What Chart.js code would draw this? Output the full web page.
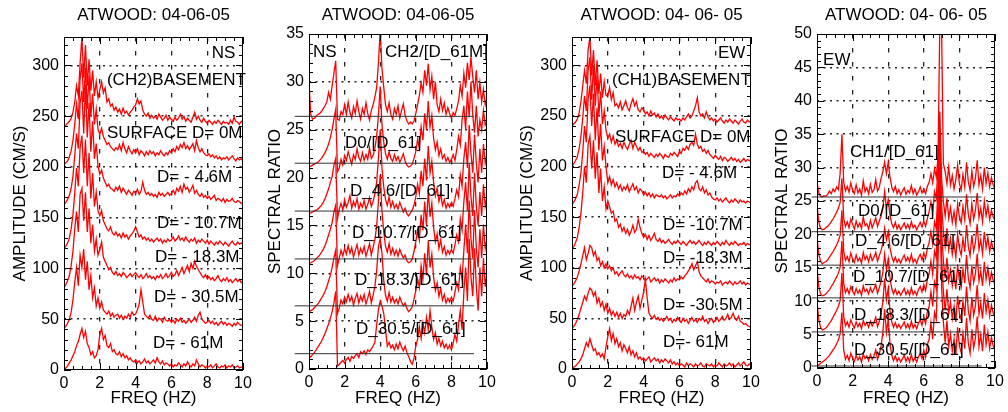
<!DOCTYPE html>
<html>
<head>
<meta charset="utf-8">
<title>ATWOOD 04-06-05</title>
<script src="https://cdn.jsdelivr.net/npm/chart.js@4/dist/chart.umd.min.js"></script>
<style>
  html, body { margin: 0; padding: 0; background: #fff; }
  body { width: 1008px; height: 412px; position: relative; overflow: hidden; }
  canvas { position: absolute; top: 0; }
</style>
</head>
<body>
<canvas id="nsAmp" width="252" height="412" style="left:0px"></canvas>
<canvas id="nsRatio" width="252" height="412" style="left:252px"></canvas>
<canvas id="ewAmp" width="264" height="412" style="left:500px"></canvas>
<canvas id="ewRatio" width="252" height="412" style="left:756px"></canvas>
<script>
// frequency grid, 0.1 Hz spacing
const freq = Array.from({ length: 101 }, (_, i) => i / 10);

// ---- NS amplitude spectra (cm/s above each trace's offset) ----
const nsShift = [240, 202, 163, 119, 81, 41, 0];
const nsBasement = [0,1,3,5,8,14,24,40,30,62, 88,48,80,40,66,35,55,30,44,28, 36,44,33,38,24,27,20,22,16,19, 14,17,12,18,13,15,11,14,16,19, 21,27,22,25,16,12,10,13,8,11, 8,10,7,12,9,6,8,11,6,9, 7,5,9,6,8,12,7,10,5,8, 6,4,9,14,7,10,6,4,8,5, 3,6,4,2,5,3,6,4,2,5, 3,4,2,6,3,9,5,4,2,5,3];
const nsSurface = [0,2,4,8,14,24,40,60,45,85, 100,62,96,55,88,48,70,40,55,35, 30,36,28,24,20,22,18,16,14,17, 15,20,14,22,16,12,18,14,11,15, 12,16,10,14,12,9,13,10,14,11, 13,9,12,10,14,11,9,12,10,14, 12,16,13,18,15,20,17,22,16,19, 15,18,21,14,24,17,13,16,12,10, 9,11,8,10,7,9,6,8,5,7, 6,8,5,7,9,6,4,7,5,6,4];
const nsD46 = [0,2,5,9,16,28,48,70,55,100, 112,70,118,66,100,52,82,45,60,38, 30,34,26,22,18,20,16,15,13,17, 14,18,12,16,13,10,14,12,9,13, 11,15,10,13,22,14,10,12,9,11, 8,10,7,12,9,11,8,10,12,9, 11,14,10,16,13,18,12,20,15,17, 12,15,19,11,14,10,8,11,7,9, 6,8,5,7,9,4,6,5,3,6, 2,5,3,4,6,3,2,4,3,1,2];
const nsD107 = [0,3,6,11,20,34,55,80,62,100, 112,75,108,62,95,50,75,42,56,38, 33,38,28,24,20,18,22,16,14,17, 13,15,11,16,12,14,10,13,15,18, 22,17,12,14,10,12,9,11,8,10, 7,9,11,8,10,6,9,7,10,8, 9,12,8,10,13,9,11,8,12,9, 7,10,8,11,6,9,7,10,8,6, 9,5,8,6,4,7,5,8,6,4, 7,5,3,6,8,5,4,7,5,6,5];
const nsD183 = [0,3,7,12,22,36,58,75,55,92, 98,66,94,55,78,44,62,36,48,32, 38,45,30,26,22,18,20,15,13,16, 12,14,11,15,13,10,12,14,11,13, 15,12,10,13,9,11,14,10,12,9, 11,8,12,10,13,9,11,14,10,12, 15,11,13,17,12,16,20,14,18,22, 16,24,19,26,21,18,15,12,10,13, 9,11,8,10,7,9,12,8,6,9, 7,10,6,8,5,7,9,6,8,5,6];
const nsD305 = [0,2,5,9,16,28,45,60,42,72, 60,78,48,66,38,52,30,40,22,30, 20,26,18,16,14,17,12,15,11,13, 14,10,13,9,12,10,14,11,16,13, 14,18,24,38,26,14,12,10,13,9, 8,12,7,10,9,6,11,8,7,9, 6,8,5,9,7,10,6,8,5,7, 9,6,8,11,7,13,16,9,7,5, 6,8,5,7,4,6,3,5,7,4, 6,3,5,4,2,5,3,6,4,3,3];
const nsD61 = [0,2,4,7,10,14,18,24,28,35, 41,32,38,26,22,15,18,12,14,20, 35,41,30,34,24,22,26,18,20,16, 15,18,13,16,12,14,10,12,9,8, 10,7,9,6,8,11,7,9,6,8, 10,7,12,8,6,9,5,7,6,4, 6,3,5,4,7,5,3,6,4,8, 5,3,6,4,10,6,3,5,4,2, 4,3,5,2,4,6,3,2,4,3, 5,2,4,3,5,2,3,4,2,3,2];

// ---- NS spectral ratios (above each baseline) ----
const nsRatioBase = [26.4, 21.5, 16.5, 11.5, 6.6, 1.6];
const nsRatioCh2 = [3.5,0.2,-0.3,-0.2,0,0.2,0.3,0.5,0.8,1.1, 1.5,2.5,1.8,3.2,4.5,5.8,-0.3,-0.4,0.5,0.2, 1.2,0.2,1.5,0.4,-0.2,1,0.3,1.6,0.5,-0.3, 0.8,0.2,1.4,0.3,-0.4,0.6,1.2,2,3,5.5, 9,5,3,1.2,0.5,1.4,0.2,-0.3,0.8,0.2, 1.1,-0.2,0.6,1.3,0.1,-0.5,-0.8,-0.6,-0.8,-0.5, 0.3,1.2,2.2,3.5,2.5,4.8,3.2,5.5,2.8,4.2, 1.8,3.6,1.2,0.5,1.8,0.6,1.4,0.2,0.9,0.3, -0.2,0.4,0.1,0.8,1.6,3.2,2.1,4.5,3,5.6, 3.8,6.2,4.1,2.5,4.8,1.8,3.5,1.5,2.8,1.2,2];
const nsRatioD0 = [-0.4,-0.3,-0.2,-0.1,0,0.1,0.3,0.5,0.8,1.1, 1.5,2,2.7,3.5,4.6,5.6,-0.9,-0.5,0.4,-0.2, 0.8,0.3,1.2,0.5,-0.1,0.9,0.4,1.5,0.6,0.2, 1.1,0.3,0.9,0.4,1.6,0.5,0.8,1.5,2.8,5, 8,4,2.2,1,0.4,1.2,0.5,0.2,0.9,0.3, 0.7,0.1,0.5,1,0.2,-0.2,-0.4,-0.3,-0.1,0.5, 1.2,2.5,1.6,3.8,2.4,5.2,3.5,6.5,3.8,5, 2.6,1.4,2.2,0.8,1.5,0.5,0.9,0.2,0.6,0.1, 0.4,0.9,0.3,1.4,2.8,1.9,4.5,6,3.5,7.5, 4.8,8.5,5,3.2,6,2.8,4.5,3.5,5.5,4,4.5];
const nsRatioD46 = [-0.3,-0.2,-0.1,0,0.1,0.2,0.4,0.6,0.9,1.3, 1.8,2.3,3,3.6,4.8,5.5,-0.8,0.2,0.8,0.1, 1.2,0.4,0.9,1.6,0.3,1,0.5,1.3,0.2,0.8, 0.4,1.1,0.2,0.7,1.4,0.5,1,1.8,3,5.5, 8.5,4.5,2.5,1.2,0.6,1.5,0.4,1,0.3,0.7, 0.2,0.9,0.4,-0.1,0.3,-0.3,-0.5,-0.2,0.1,0.6, 1.5,2.8,1.8,4.2,2.6,5.5,3.2,6.8,4,5.2, 3,1.6,2.4,1,1.8,0.6,1.2,0.3,0.8,0.4, 0.9,0.5,1.3,2.2,1.5,3.8,2.6,5.5,7.2,4.5, 9,6,4,8,5,3,6.5,4,7,5,6];
const nsRatioD107 = [-0.5,-0.4,-0.3,-0.2,0,0.2,0.4,0.7,1,1.4, 1.9,2.5,3.1,3.8,4.9,5.6,-0.7,0.1,0.9,0.3, 1.1,0.5,1.4,0.6,1.2,0.2,0.9,1.5,0.4,1.1, 0.6,1.3,0.3,0.9,1.6,0.4,1.2,2,3.4,6, 8.8,5,2.8,1.3,0.7,1.6,0.5,1.1,0.4,0.9, 0.3,1,0.5,0.1,0.4,-0.2,-0.4,-0.3,0,0.8, 1.8,3,2,4.6,3,6,3.5,7.2,4.4,5.8, 3.3,1.8,2.6,1.1,2,0.7,1.3,0.4,0.9,0.5, 1,0.6,1.5,2.5,1.8,4.2,3,6,8,5, 10,6.5,4.5,9,5.5,3.5,7,4.5,7.8,5.5,6.5];
const nsRatioD183 = [-0.6,-0.5,-0.4,-0.2,0,0.2,0.5,0.8,1.1,1.5, 2,2.6,3.2,4,5,5.8,-0.8,-0.2,0.6,0.2, 0.9,0.4,1.2,0.5,1,0.1,0.8,1.3,0.3,1, 0.5,1.2,0.2,0.8,1.5,0.3,1.1,2,3.6,6.2, 7,5.5,2.6,1.1,0.5,1.4,0.4,0.9,0.3,0.7, 0.2,0.9,0.4,0,0.3,-0.3,-0.6,-0.4,-0.1,0.7, 1.6,2.8,1.9,4.2,2.8,5.5,3.2,6.8,4,5.4, 3,1.6,2.4,1,1.8,0.6,1.2,0.3,0.8,0.4, 0.9,0.5,1.4,2.4,1.7,4,2.8,5.8,8.5,5.5, 11,7,5,10,6,4,8,5,8.5,6,7];
const nsRatioD305 = [-0.5,-0.3,-0.1,0.1,0.4,0.7,1,1.3,1.7,2.1, 2.6,3.1,3.7,4.4,5.3,6.5,-1.3,-1.1,-0.9,-0.7, -1,-0.6,-0.4,-0.8,-0.3,-0.5,-0.2,0,-0.4,0.2, 0,0.3,-0.1,0.4,0.2,0.5,0.8,1.2,3,4.6, 5.5,5,4.2,2.5,0.8,1.2,0.6,0.9,0.4,1, 0.5,1.2,0.7,0.3,0.8,0.1,-0.3,-0.8,-1.1,-0.5, 0.8,1.5,2.8,1.6,3.2,2.2,3.8,2.5,4.5,2.8, 1.5,2.2,1,1.6,0.8,1.3,0.6,1,0.5,0.9, 0.4,1.1,2,1.3,3,4.5,2.5,6.5,9,5.5, 12,8,6,11,7,4.5,9,6,10,7,8.5];

// ---- EW amplitude spectra ----
const ewShift = [240, 200, 162, 118, 82, 40, 0];
const ewBasement = [0,2,4,7,13,24,40,55,42,75, 88,50,75,40,65,32,52,28,44,30, 30,38,26,33,20,22,18,24,16,20, 25,18,15,22,27,20,24,16,14,18, 16,12,14,10,15,11,13,9,12,8, 10,7,11,8,6,9,7,5,8,6, 7,5,8,6,9,12,8,10,15,20, 28,14,10,12,8,14,9,6,8,5, 7,4,6,8,5,3,6,4,7,5, 3,6,4,2,5,7,4,3,6,4,5];
const ewSurface = [0,3,6,10,18,30,48,70,55,95, 108,66,100,60,90,50,74,42,55,36, 28,32,24,30,22,26,20,23,18,24, 20,17,22,26,18,24,20,16,19,14, 15,12,14,10,13,11,9,12,10,13, 11,8,12,10,9,13,11,14,12,10, 15,13,18,16,20,17,22,24,21,32, 22,18,20,15,17,13,16,12,10,8, 11,9,7,10,6,9,8,5,7,9, 6,8,5,7,4,6,8,5,7,6,6];
const ewD46 = [0,3,6,11,20,32,52,78,62,105, 118,78,110,64,96,54,80,44,58,38, 22,28,20,25,18,22,16,20,14,18, 15,20,13,17,21,15,18,12,16,14, 10,13,9,12,8,11,7,10,9,8, 10,7,9,6,8,10,7,9,8,11, 9,12,10,14,11,16,13,18,15,22, 24,16,14,18,12,15,10,12,8,6, 5,7,4,6,3,5,7,4,2,5, 3,6,4,2,5,3,4,2,4,3,2];
const ewD107 = [0,3,7,12,22,36,56,82,66,104, 112,80,108,70,96,56,80,48,62,40, 48,42,36,38,28,30,22,25,18,22, 16,20,14,18,24,17,20,30,22,16, 12,15,10,14,9,12,16,10,8,11, 7,9,6,8,10,7,5,8,6,9, 7,5,8,6,4,7,9,6,8,5, 7,9,6,4,7,5,8,6,4,7, 5,8,6,4,7,5,9,6,4,7, 5,8,6,4,6,5,7,4,6,5,5];
const ewD183 = [0,2,5,9,15,22,30,38,26,32, 40,38,30,34,25,28,20,24,18,22, 17,20,15,18,12,14,10,13,15,11, 9,12,8,10,7,11,8,9,6,10, 8,5,7,9,4,6,8,5,7,3, 6,4,7,5,3,6,4,8,5,7, 6,9,7,10,12,15,18,22,16,20, 24,14,10,8,6,4,7,3,5,4, 2,4,3,5,1,3,4,2,5,3, 1,4,2,3,5,2,4,1,3,2,1];
const ewD305 = [0,2,5,9,14,20,26,32,28,35, 40,38,32,36,25,30,22,26,18,24, 15,20,13,17,12,16,11,15,10,14, 12,18,14,22,30,18,26,32,20,28, 36,48,30,15,12,10,13,9,11,8, 10,7,9,12,8,10,6,9,7,11, 8,6,10,7,9,5,8,11,7,9, 6,10,8,12,7,9,5,8,10,6, 8,11,7,9,12,8,10,14,9,11, 15,10,8,12,7,6,4,5,3,2,1];
const ewD61 = [0,2,3,5,7,10,14,20,26,22, 30,24,18,20,14,16,12,15,10,22, 32,40,28,35,25,30,22,26,18,24, 20,16,22,14,18,12,16,10,12,9, 11,8,10,12,7,9,11,8,10,6, 9,7,10,8,6,9,5,7,4,6, 3,5,4,2,6,3,5,4,2,5, 3,4,6,3,2,5,4,3,5,2, 4,3,6,4,2,5,3,4,6,3, 5,2,4,6,3,5,7,4,3,5,4];

// ---- EW spectral ratios ----
const ewRatioBase = [25.6, 20.4, 15.4, 10.5, 5.4, 0.3];
const ewRatioCh1 = [2.3,0.6,0.1,0,0.2,0.1,0.4,0.9,0.5,1.2, 0.8,1.5,1.1,3.5,9.4,2.2,0.9,1.6,0.7,2.1, 1,0.5,1.8,0.6,1.2,0.3,2.4,0.8,1.4,0.5, 1.9,0.7,1.1,2.6,0.9,1.5,2.8,3.8,5.2,3.5, 5.2,3,1.5,0.8,1.6,0.5,1.1,0.3,0.9,1.4, 0.4,1,0.6,1.7,0.5,1.2,0.3,0.8,1.5,0.6, 1.2,0.5,1.6,2.2,3.5,2.1,4.2,3,6,26, 25,5,3.8,2,4.5,1.8,3.2,1.2,2.6,4.8, 2,1.1,3.4,1.5,5.2,2.3,1,3.9,1.6,2.8, 5.5,1.8,3.2,1.2,4.4,2,3.6,1.5,2.9,1.8,1.2];
const ewRatioD0 = [4,1.5,0.5,0.3,0.4,0.6,0.8,1.1,1.5,1.9, 2.4,2.9,3.5,4.4,8,2,0.8,1.5,0.6,1.9, 1.1,0.4,1.6,0.7,1.3,0.5,2.2,0.9,1.2,0.4, 1.7,0.6,1.3,2.1,0.8,1.6,2.4,3.5,6,3.5, 4.8,2.5,1.2,0.6,1.4,0.4,1,0.3,0.8,1.3, 0.5,1.1,0.4,1.5,0.6,1,0.3,0.9,1.4,0.7, 1.6,0.8,2,3,4.5,2.8,6,5,10,18, 8,4.5,2.4,5,2,3.6,1.4,3,1,4.2, 2.2,1.3,3.8,1.8,5.6,2.6,1.2,4.2,1.9,3.2, 5.8,2.1,3.5,1.5,4.6,2.4,3.9,1.8,3.2,2.2,1.6];
const ewRatioD46 = [4.2,1.6,0.6,0.2,0.4,0.5,0.8,1.2,1.6,2, 2.5,3,3.6,4.5,8.2,2.1,0.7,1.3,0.5,1.8, 0.9,0.4,1.5,0.6,1.1,0.3,1.9,0.8,1.4,0.5, 1.6,0.7,1.2,1.9,0.6,1.4,2.2,3.2,5.5,3.8, 5,2.6,1.3,0.5,1.2,0.4,0.9,0.3,1,1.5, 0.6,1.2,0.5,1.6,0.4,0.9,0.3,1.1,1.6,0.8, 1.8,1,2.5,3.4,5,3.2,6.5,5.5,12,20, 9,5,2.8,5.5,2.3,4,1.6,3.2,1.2,4.6, 2.5,1.5,4,2,6,2.8,1.4,4.5,2.1,3.4, 6.2,2.3,3.8,1.7,5,2.6,4.2,2,3.5,2.4,1.8];
const ewRatioD107 = [4.5,1.7,0.6,0.3,0.4,0.6,0.9,1.2,1.7,2.1, 2.6,3.1,3.7,4.6,8.5,2.2,0.8,1.4,0.6,1.7, 1,0.5,1.4,0.7,1.2,0.4,1.8,0.9,1.3,0.6, 1.5,0.8,1.3,2,0.7,1.5,2.5,3.8,6.5,4.2, 5.8,3,1.4,0.6,1.3,0.5,1,0.4,0.9,1.4, 0.5,1.1,0.4,1.5,0.5,1,0.4,1.2,1.7,0.9, 2,1.1,2.8,3.6,5.5,3.5,7,6,14,22, 10,5.5,3,6,2.5,4.2,1.8,3.5,1.3,5, 2.6,1.6,4.3,2.2,6.4,3,1.5,4.8,2.3,3.6, 6.6,2.5,4,1.8,5.4,2.8,4.5,2.2,3.8,2.6,2];
const ewRatioD183 = [4.6,1.8,0.7,0.3,0.4,0.6,0.9,1.3,1.7,2.2, 2.7,3.2,3.8,4.7,8.8,2.3,0.9,1.5,0.7,1.8, 1.1,0.6,1.5,0.8,1.3,0.5,1.7,1,1.4,0.7, 1.6,0.9,1.4,2.2,0.8,1.6,2.8,4.5,8,4.8, 6.5,3.2,1.5,0.7,1.4,0.6,1.1,0.5,1,1.5, 0.6,1.2,0.5,1.6,0.6,1.1,0.5,1.3,1.8,1, 2.2,1.2,3,3.8,6,3.8,7.5,6.5,15,24, 11,6,3.2,6.4,2.7,4.5,2,3.8,1.5,5.4, 2.8,1.8,4.6,2.4,6.8,3.2,1.7,5.2,2.5,3.9, 7,2.7,4.3,2,5.8,3,4.8,2.4,4,2.8,2.2];
const ewRatioD305 = [0,0.2,0.4,0.6,0.8,1,1.3,1.6,2,2.4, 2.8,3.3,3.9,4.8,8,2.4,1,1.6,0.8,1.9, 1.2,0.7,1.6,0.9,1.4,0.6,1.8,1.1,1.5,0.8, 1.7,1,1.5,2.4,1,1.8,3,5,8.5,5, 7,3.4,1.6,0.8,1.5,0.7,1.2,0.6,1.1,1.6, 0.7,1.3,0.6,1.7,0.7,1.2,0.6,1.4,1.9,1.1, 2.4,1.3,3.2,4,6.5,4,8,7,16,26, 12,6.5,3.5,6.8,2.9,4.8,2.2,4,1.7,5.8, 3,2,4.9,2.6,7.2,3.4,1.9,5.5,2.7,4.2, 7.4,2.9,4.6,2.2,6.2,3.2,5.1,2.6,4.3,3,2.4];

Chart.defaults.font.family = '"Liberation Sans", Arial, Helvetica, sans-serif';
Chart.defaults.color = '#000';

function traces(list, shifts) {
  return list.map((vals, i) => ({
    data: vals.map((v, j) => ({ x: freq[j], y: shifts[i] + v })),
    borderColor: '#ff0000',
    borderWidth: 1.3,
  }));
}

function baselines(levels, from, to) {
  return levels.map(b => ({
    data: [{ x: from, y: b }, { x: to, y: b }],
    borderColor: '#333',
    borderWidth: 1,
    order: -1,
    clip: { left: 16, top: 0, right: 0, bottom: 0 },
  }));
}

// closed box with inward major/minor tick marks on all four sides
const frame = {
  id: 'frame',
  afterDatasetsDraw(chart, args, o) {
    const { ctx, chartArea: a, scales: { x, y } } = chart;
    ctx.save();
    ctx.strokeStyle = '#000';
    ctx.lineWidth = 1;
    ctx.strokeRect(a.left + 0.5, a.top + 0.5, a.width - 1, a.height - 1);
    ctx.beginPath();
    for (let k = 0; k <= 20; k++) {
      const px = Math.round(x.getPixelForValue(k / 2)) + 0.5;
      const len = k % 4 === 0 ? 7 : 4;
      ctx.moveTo(px, a.bottom); ctx.lineTo(px, a.bottom - len);
      ctx.moveTo(px, a.top); ctx.lineTo(px, a.top + len);
    }
    for (let v = 0; v <= y.max; v += o.yMinor) {
      const py = Math.round(y.getPixelForValue(v)) + 0.5;
      const len = v % o.yMajor === 0 ? 7 : 4;
      ctx.moveTo(a.left, py); ctx.lineTo(a.left + len, py);
      ctx.moveTo(a.right, py); ctx.lineTo(a.right - len, py);
    }
    ctx.stroke();
    ctx.restore();
  }
};

// curve captions written inside the plot
const tags = {
  id: 'tags',
  afterDatasetsDraw(chart, args, o) {
    const { ctx, scales: { x, y } } = chart;
    ctx.save();
    ctx.font = '17px "Liberation Sans", Arial, sans-serif';
    ctx.fillStyle = '#000';
    ctx.textBaseline = 'middle';
    o.items.forEach(t => ctx.fillText(t.text, x.getPixelForValue(t.x), y.getPixelForValue(t.y)));
    ctx.restore();
  }
};

function makePanel(id, p) {
  const hidden = 'rgba(0,0,0,0)';
  new Chart(document.getElementById(id), {
    type: 'line',
    data: { datasets: p.datasets },
    options: {
      responsive: false,
      animation: false,
      events: [],
      layout: { padding: { left: 0, right: p.padRight, top: 0, bottom: 0 } },
      elements: { point: { radius: 0 }, line: { tension: 0 } },
      plugins: {
        legend: { display: false },
        tooltip: { enabled: false },
        title: {
          display: true,
          text: p.title,
          fullSize: false,
          color: '#000',
          font: { size: 17, weight: 'normal' },
          padding: { top: 5, bottom: p.top - 25.4 },
        },
        frame: { yMinor: p.yMinor, yMajor: p.yMajor },
        tags: { items: p.tags },
      },
      scales: {
        x: {
          type: 'linear',
          min: 0,
          max: 10,
          ticks: { stepSize: 2, padding: 4, color: '#000', font: { size: 16 } },
          grid: {
            drawTicks: false,
            lineWidth: 1.3,
            color: c => (c.tick && c.tick.value > 0 && c.tick.value < 10) ? '#222' : hidden,
          },
          border: { display: false, dash: [4.5, 9.5] },
          title: { display: true, text: 'FREQ (HZ)', color: '#000', font: { size: 17 }, padding: { top: 0, bottom: 3 } },
          afterFit: s => { s.height = 412 - p.bottom; s.paddingLeft = 0; s.paddingRight = 0; },
        },
        y: {
          type: 'linear',
          min: 0,
          max: p.yMax,
          ticks: { stepSize: p.yMajor, padding: 5, color: '#000', font: { size: 16 }, includeBounds: false },
          grid: {
            drawTicks: false,
            lineWidth: 1.5,
            color: c => (c.tick && c.tick.value > 0 && c.tick.value < p.yMax) ? '#222' : hidden,
          },
          border: { display: false, dash: [2, 4.5] },
          title: { display: true, text: p.yTitle, color: '#000', font: { size: 17 }, padding: { top: p.yTitlePad, bottom: 0 } },
          afterFit: s => { s.width = p.left; s.paddingTop = 0; s.paddingBottom = 0; },
        },
      },
    },
    plugins: [frame, tags],
  });
}

makePanel('nsAmp', {
  title: 'ATWOOD: 04-06-05',
  yTitle: 'AMPLITUDE (CM/S)',
  left: 64, padRight: 9, top: 37, bottom: 370, yTitlePad: 10,
  yMax: 328, yMajor: 50, yMinor: 10,
  datasets: traces([nsBasement, nsSurface, nsD46, nsD107, nsD183, nsD305, nsD61], nsShift),
  tags: [
    { text: 'NS', x: 8.25, y: 312 },
    { text: '(CH2)BASEMENT', x: 2.4, y: 285 },
    { text: 'SURFACE D= 0M', x: 2.4, y: 233 },
    { text: 'D= - 4.6M', x: 5.2, y: 190 },
    { text: 'D= - 10.7M', x: 5.2, y: 144 },
    { text: 'D= - 18.3M', x: 5.08, y: 111 },
    { text: 'D= - 30.5M', x: 5.03, y: 72 },
    { text: 'D= - 61M', x: 4.97, y: 26 },
  ],
});

makePanel('nsRatio', {
  title: 'ATWOOD: 04-06-05',
  yTitle: 'SPECTRAL RATIO',
  left: 57, padRight: 17, top: 34, bottom: 369, yTitlePad: 13,
  yMax: 35, yMajor: 5, yMinor: 1,
  datasets: baselines(nsRatioBase, -0.8, 9.27).concat(
    traces([nsRatioCh2, nsRatioD0, nsRatioD46, nsRatioD107, nsRatioD183, nsRatioD305], nsRatioBase)),
  tags: [
    { text: 'NS', x: 0.22, y: 33.1 },
    { text: 'CH2/[D_61M]', x: 4.27, y: 33.1 },
    { text: 'D0/[D_61]', x: 2.02, y: 23.6 },
    { text: 'D_4.6/[D_61]', x: 2.3, y: 18.6 },
    { text: 'D_10.7/[D_61]', x: 2.42, y: 14.2 },
    { text: 'D_18.3/[D_61]', x: 2.58, y: 9.3 },
    { text: 'D_30.5/[D_61]', x: 2.64, y: 4.1 },
  ],
});

makePanel('ewAmp', {
  title: 'ATWOOD: 04- 06- 05',
  yTitle: 'AMPLITUDE (CM/S)',
  left: 72, padRight: 13, top: 37, bottom: 369, yTitlePad: 17,
  yMax: 328, yMajor: 50, yMinor: 10,
  datasets: traces([ewBasement, ewSurface, ewD46, ewD107, ewD183, ewD305, ewD61], ewShift),
  tags: [
    { text: 'EW', x: 8.15, y: 312 },
    { text: '(CH1)BASEMENT', x: 2.23, y: 285 },
    { text: 'SURFACE D= 0M', x: 2.4, y: 229 },
    { text: 'D= - 4.6M', x: 5.03, y: 193 },
    { text: 'D= -10.7M', x: 5.08, y: 142 },
    { text: 'D= -18.3M', x: 5.08, y: 109 },
    { text: 'D= -30.5M', x: 5.08, y: 63 },
    { text: 'D=- 61M', x: 5.08, y: 26 },
  ],
});

makePanel('ewRatio', {
  title: 'ATWOOD: 04- 06- 05',
  yTitle: 'SPECTRAL RATIO',
  left: 61, padRight: 13, top: 34, bottom: 368, yTitlePad: 16,
  yMax: 50, yMajor: 5, yMinor: 1,
  datasets: baselines(ewRatioBase, -0.3, 9.25).concat(
    traces([ewRatioCh1, ewRatioD0, ewRatioD46, ewRatioD107, ewRatioD183, ewRatioD305], ewRatioBase)),
  tags: [
    { text: 'EW', x: 0.34, y: 46.1 },
    { text: 'CH1/[D_61]', x: 1.85, y: 32.3 },
    { text: 'D0/[D_61]', x: 2.3, y: 23.4 },
    { text: 'D_4.6/[D_61]', x: 2.13, y: 18.9 },
    { text: 'D_10.7/[D_61]', x: 2.02, y: 13.6 },
    { text: 'D_18.3/[D_61]', x: 2.08, y: 7.9 },
    { text: 'D_30.5/[D_61]', x: 2.08, y: 2.7 },
  ],
});
</script>
</body>
</html>
